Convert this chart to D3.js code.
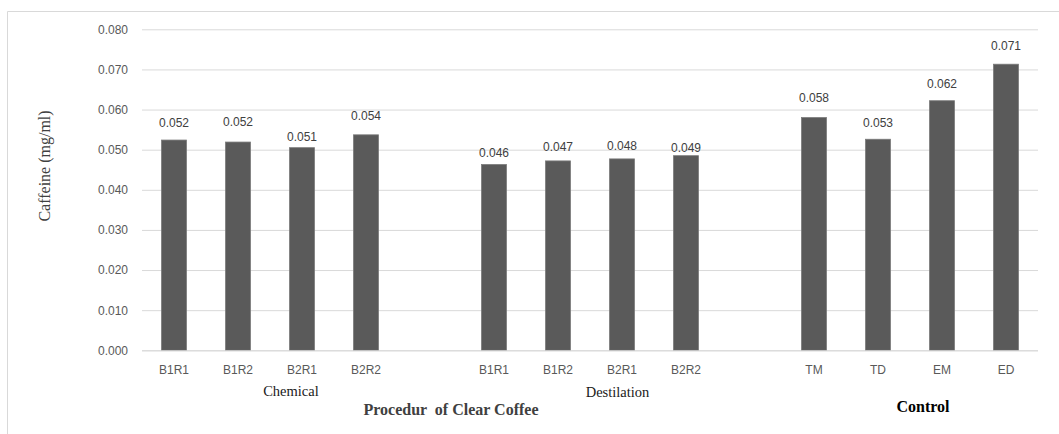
<!DOCTYPE html>
<html>
<head>
<meta charset="utf-8">
<script src="https://cdn.jsdelivr.net/npm/d3@7"></script>
<style>
  html, body { margin: 0; padding: 0; background: #fff; }
  svg { display: block; }
</style>
</head>
<body>
<svg id="chart" width="1059" height="434"></svg>
<script>
// Caffeine content per sample, grouped by procedure
const groups = ["Chemical", "Destilation", "Control"];
const chemicalSamples = ["B1R1", "B1R2", "B2R1", "B2R2"];
const destilationSamples = ["B1R1", "B1R2", "B2R1", "B2R2"];
const controlSamples = ["TM", "TD", "EM", "ED"];
const chemicalValues = [0.0524, 0.0519, 0.0505, 0.0537];
const destilationValues = [0.0463, 0.0472, 0.0477, 0.0485];
const controlValues = [0.0580, 0.0526, 0.0622, 0.0713];
const chemicalLabels = ["0.052", "0.052", "0.051", "0.054"];
const destilationLabels = ["0.046", "0.047", "0.048", "0.049"];
const controlLabels = ["0.058", "0.053", "0.062", "0.071"];
const yTicks = [0, 0.01, 0.02, 0.03, 0.04, 0.05, 0.06, 0.07, 0.08];

// Lift of each value label above its bar (layout only)
const labelLift = [17, 20, 11, 19, 12, 14, 13, 7.5, 20, 17, 17, 19];

const sampleSets = [chemicalSamples, destilationSamples, controlSamples];
const valueSets = [chemicalValues, destilationValues, controlValues];
const labelSets = [chemicalLabels, destilationLabels, controlLabels];

// Flatten into bars, with an empty slot between groups
const rows = [];
const slots = [];
groups.forEach((g, gi) => {
  sampleSets[gi].forEach((s, i) => {
    const key = g + "|" + s;
    slots.push(key);
    rows.push({ key, group: g, sample: s, value: valueSets[gi][i], label: labelSets[gi][i] });
  });
  if (gi < groups.length - 1) slots.push("gap" + gi);
});
rows.forEach((r, i) => r.lift = labelLift[i]);

const svg = d3.select("#chart");
const plot = { left: 142, right: 1038, top: 29.3, bottom: 350.3 };

const x = d3.scaleBand()
  .domain(slots)
  .range([plot.left, plot.right])
  .paddingInner(0.61)
  .paddingOuter(0.305);

const y = d3.scaleLinear()
  .domain([0, 0.08])
  .range([plot.bottom, plot.top]);

// Outer frame
svg.append("path")
  .attr("d", "M7.5,434 V11.5 H1059")
  .attr("fill", "none")
  .attr("stroke", "#d9d9d9")
  .attr("stroke-width", 1);

// Gridlines and y tick labels
const yAxis = d3.axisLeft(y)
  .tickValues(yTicks)
  .tickFormat(d3.format(".3f"))
  .tickSize(-(plot.right - plot.left))
  .tickPadding(14);

const gy = svg.append("g")
  .attr("transform", `translate(${plot.left},0)`)
  .call(yAxis);
gy.select(".domain").remove();
gy.selectAll(".tick line")
  .attr("stroke", "#d9d9d9")
  .attr("stroke-width", 1);
gy.selectAll(".tick text")
  .attr("fill", "#595959")
  .style("font-family", "'Liberation Sans', Arial, sans-serif")
  .style("font-size", "12px");

// Bars
svg.append("g")
  .selectAll("rect")
  .data(rows)
  .join("rect")
  .attr("x", d => x(d.key))
  .attr("width", x.bandwidth())
  .attr("y", d => y(d.value))
  .attr("height", d => y(0) - y(d.value))
  .attr("fill", "#5a5a5a")
  .attr("stroke", "#7a7a7a")
  .attr("stroke-width", 0.8);

// Value labels
svg.append("g")
  .selectAll("text")
  .data(rows)
  .join("text")
  .attr("x", d => x(d.key) + x.bandwidth() / 2)
  .attr("y", d => y(d.value) - d.lift + 4.3)
  .attr("text-anchor", "middle")
  .attr("fill", "#404040")
  .style("font-family", "'Liberation Sans', Arial, sans-serif")
  .style("font-size", "12px")
  .text(d => d.label);

// Sample labels under the axis
const xAxis = d3.axisBottom(x)
  .tickValues(rows.map(r => r.key))
  .tickFormat(k => k.split("|")[1])
  .tickSize(0)
  .tickPadding(15);
const gx = svg.append("g")
  .attr("transform", `translate(0,${plot.bottom})`)
  .call(xAxis);
gx.select(".domain")
  .attr("stroke", "#d9d9d9")
  .attr("d", `M${plot.left},0.5H${plot.right}`);
gx.selectAll(".tick text")
  .attr("fill", "#595959")
  .style("font-family", "'Liberation Sans', Arial, sans-serif")
  .style("font-size", "12px");

// Group titles
const serif = "'Liberation Serif', 'Times New Roman', serif";
const mid = k => x(k) + x.bandwidth() / 2;
svg.append("text")
  .attr("x", mid("Chemical|B2R1") - 11)
  .attr("y", 396)
  .attr("text-anchor", "middle")
  .attr("fill", "#1a1a1a")
  .style("font-family", serif)
  .style("font-size", "14.5px")
  .text(groups[0]);
svg.append("text")
  .attr("x", mid("Destilation|B2R1") - 4.5)
  .attr("y", 396.5)
  .attr("text-anchor", "middle")
  .attr("fill", "#1a1a1a")
  .style("font-family", serif)
  .style("font-size", "14.5px")
  .text(groups[1]);
svg.append("text")
  .attr("x", mid("Control|TD") + 45)
  .attr("y", 411.5)
  .attr("text-anchor", "middle")
  .attr("fill", "#000")
  .style("font-family", serif)
  .style("font-size", "16px")
  .style("font-weight", "bold")
  .text(groups[2]);
svg.append("text")
  .attr("x", (x("gap0") + x.bandwidth() / 2) + 21)
  .attr("y", 414.5)
  .attr("text-anchor", "middle")
  .attr("fill", "#404040")
  .style("font-family", serif)
  .style("font-size", "16px")
  .style("font-weight", "bold")
  .style("white-space", "pre")
  .text("Procedur  of Clear Coffee");

// Y axis title
svg.append("text")
  .attr("transform", "translate(50,166) rotate(-90)")
  .attr("text-anchor", "middle")
  .attr("fill", "#404040")
  .style("font-family", serif)
  .style("font-size", "16px")
  .text("Caffeine (mg/ml)");
</script>
</body>
</html>
